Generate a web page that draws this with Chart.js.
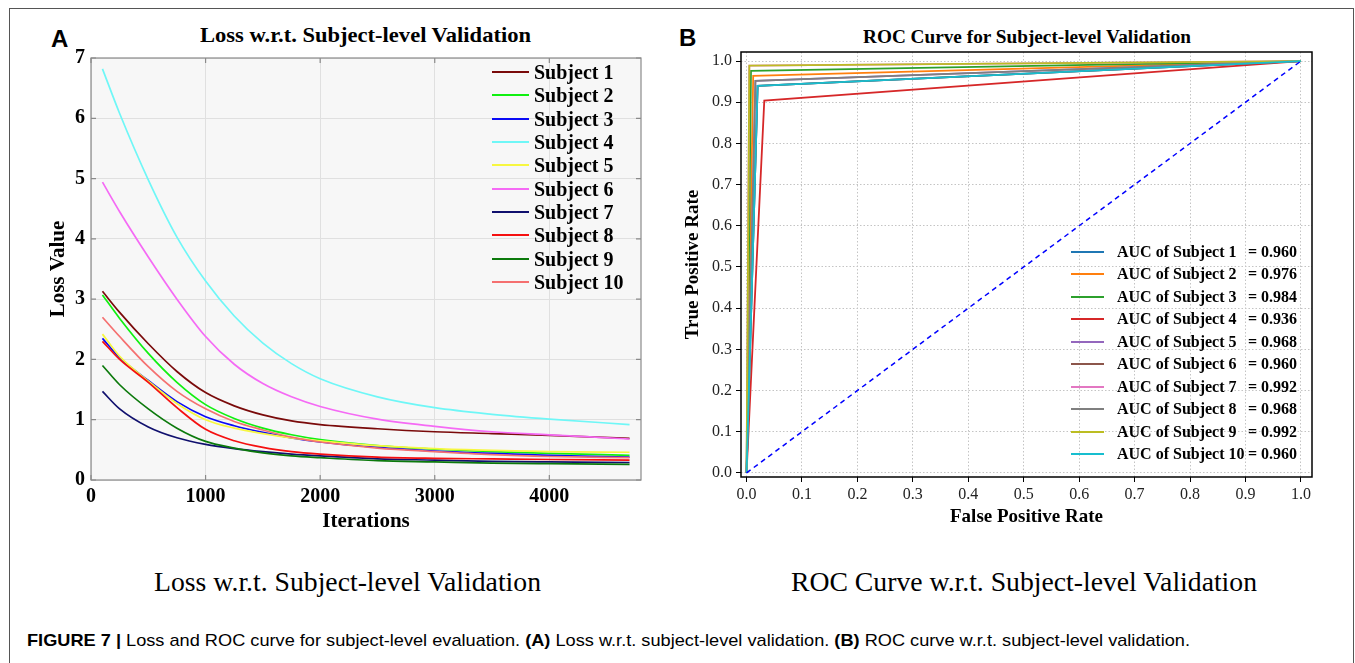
<!DOCTYPE html>
<html>
<head>
<meta charset="utf-8">
<script src="https://cdn.jsdelivr.net/npm/chart.js@4/dist/chart.umd.min.js"></script>
<style>
  body { margin: 0; width: 1355px; height: 663px; overflow: hidden; position: relative; background: #fff; font-family: 'Liberation Serif', serif; color: #000; }
  .frame { position: absolute; left: 9px; top: 8px; width: 1345px; height: 700px; border: 1.5px solid #555; box-sizing: border-box; }
  .abs { position: absolute; white-space: nowrap; line-height: 1; }
  .panel { font-family: 'Liberation Sans', sans-serif; font-weight: bold; font-size: 24px; }
  .ctitle { font-weight: bold; transform-origin: 0 50%; }
  .sub { font-size: 28px; transform-origin: 0 50%; }
  .cap { font-family: 'Liberation Sans', sans-serif; font-size: 17px; transform-origin: 0 50%; }
  canvas { position: absolute; }
  .leg { position: absolute; }
  .row { position: absolute; left: 0; white-space: nowrap; font-weight: bold; }
  .row i { position: absolute; left: 0; top: 50%; height: 2px; margin-top: -1px; }
  .row span { position: absolute; top: 50%; transform: translateY(-50%); }
</style>
</head>
<body>
<div class="frame"></div>

<div class="abs panel" style="left:51px;top:27px;">A</div>
<div class="abs panel" style="left:679px;top:26px;">B</div>

<div class="abs ctitle" id="lossTitle" style="font-size:21px;">Loss w.r.t. Subject-level Validation</div>
<div class="abs ctitle" id="rocTitle" style="font-size:18px;">ROC Curve for Subject-level Validation</div>

<canvas id="lossCanvas" width="630" height="500" style="left:20px;top:40px;"></canvas>
<canvas id="rocCanvas" width="660" height="510" style="left:680px;top:30px;"></canvas>

<div class="leg" id="lossLegend"></div>
<div class="leg" id="rocLegend"></div>

<div class="abs sub" id="lossSub">Loss w.r.t. Subject-level Validation</div>
<div class="abs sub" id="rocSub">ROC Curve w.r.t. Subject-level Validation</div>

<div class="abs cap" id="caption"><b>FIGURE 7 |</b> Loss and ROC curve for subject-level evaluation. <b>(A)</b> Loss w.r.t. subject-level validation. <b>(B)</b> ROC curve w.r.t. subject-level validation.</div>

<script>
// ---- Painel A: perda por iteração ----
const ITERATIONS = [100, 250, 500, 750, 1000, 1250, 1500, 1750, 2000, 2500, 3000, 3500, 4000, 4700];
const LOSS_S1  = [3.13, 2.78, 2.26, 1.80, 1.45, 1.23, 1.08, 0.98, 0.92, 0.85, 0.80, 0.77, 0.74, 0.69];
const LOSS_S2  = [3.07, 2.68, 2.10, 1.62, 1.25, 1.02, 0.86, 0.75, 0.67, 0.57, 0.51, 0.47, 0.44, 0.41];
const LOSS_S3  = [2.35, 2.03, 1.65, 1.30, 1.05, 0.90, 0.79, 0.70, 0.63, 0.54, 0.48, 0.44, 0.41, 0.38];
const LOSS_S4  = [6.82, 6.08, 4.98, 4.03, 3.30, 2.72, 2.27, 1.93, 1.68, 1.38, 1.20, 1.09, 1.01, 0.92];
const LOSS_S5  = [2.42, 2.05, 1.64, 1.27, 1.00, 0.86, 0.77, 0.70, 0.65, 0.57, 0.52, 0.49, 0.47, 0.46];
const LOSS_S6  = [4.94, 4.45, 3.70, 3.00, 2.38, 1.92, 1.60, 1.38, 1.22, 1.01, 0.89, 0.80, 0.75, 0.68];
const LOSS_S7  = [1.47, 1.18, 0.88, 0.70, 0.59, 0.52, 0.47, 0.43, 0.40, 0.35, 0.33, 0.31, 0.30, 0.29];
const LOSS_S8  = [2.30, 2.00, 1.62, 1.20, 0.84, 0.65, 0.54, 0.47, 0.43, 0.38, 0.36, 0.35, 0.34, 0.33];
const LOSS_S9  = [1.90, 1.58, 1.18, 0.86, 0.64, 0.53, 0.45, 0.40, 0.37, 0.32, 0.30, 0.28, 0.27, 0.26];
const LOSS_S10 = [2.70, 2.38, 1.88, 1.47, 1.18, 0.97, 0.83, 0.71, 0.63, 0.53, 0.47, 0.42, 0.39, 0.37];
const LOSS_SERIES = [LOSS_S1, LOSS_S2, LOSS_S3, LOSS_S4, LOSS_S5, LOSS_S6, LOSS_S7, LOSS_S8, LOSS_S9, LOSS_S10];
const LOSS_LABELS = ['Subject 1', 'Subject 2', 'Subject 3', 'Subject 4', 'Subject 5',
                     'Subject 6', 'Subject 7', 'Subject 8', 'Subject 9', 'Subject 10'];
const LOSS_COLORS = ['#7a0a0a', '#10f010', '#0a0af5', '#6ff7f7', '#f7f740',
                     '#f56af5', '#10106e', '#f51010', '#0c7a0c', '#f57070'];
const LOSS_X_TICKS = [0, 1000, 2000, 3000, 4000];
const LOSS_Y_TICKS = [0, 1, 2, 3, 4, 5, 6, 7];

// ---- Painel B: ROC (um ponto de operação por sujeito) ----
const ROC_LABELS = ['AUC of Subject 1', 'AUC of Subject 2', 'AUC of Subject 3', 'AUC of Subject 4', 'AUC of Subject 5',
                    'AUC of Subject 6', 'AUC of Subject 7', 'AUC of Subject 8', 'AUC of Subject 9', 'AUC of Subject 10'];
const ROC_AUC = ['0.960', '0.976', '0.984', '0.936', '0.968', '0.960', '0.992', '0.968', '0.992', '0.960'];
const ROC_FPR = [0.020, 0.012, 0.008, 0.032, 0.016, 0.020, 0.005, 0.016, 0.005, 0.020];
const ROC_TPR = [0.940, 0.964, 0.976, 0.904, 0.952, 0.940, 0.989, 0.952, 0.989, 0.940];
const ROC_COLORS = ['#1f77b4', '#ff7f0e', '#2ca02c', '#d62728', '#9467bd',
                    '#8c564b', '#e377c2', '#7f7f7f', '#bcbd22', '#17becf'];
const ROC_TICKS = [0, 0.1, 0.2, 0.3, 0.4, 0.5, 0.6, 0.7, 0.8, 0.9, 1.0];

const SERIF = 'Liberation Serif';

// moldura + fundo + ticks internos (estilo MATLAB)
const boxFrame = {
  id: 'boxFrame',
  beforeDraw(chart, args, opts) {
    if (!opts.fill) return;
    const a = chart.chartArea, ctx = chart.ctx;
    ctx.save();
    ctx.fillStyle = opts.fill;
    ctx.fillRect(a.left, a.top, a.right - a.left, a.bottom - a.top);
    ctx.restore();
  },
  afterDraw(chart, args, opts) {
    const a = chart.chartArea, ctx = chart.ctx;
    ctx.save();
    ctx.strokeStyle = opts.color || '#000';
    ctx.lineWidth = opts.width || 1;
    if (opts.innerTicks) {
      const L = opts.innerTicks;
      ctx.beginPath();
      chart.scales.x.ticks.forEach(t => {
        const px = chart.scales.x.getPixelForValue(t.value);
        ctx.moveTo(px, a.bottom); ctx.lineTo(px, a.bottom - L);
        ctx.moveTo(px, a.top); ctx.lineTo(px, a.top + L);
      });
      chart.scales.y.ticks.forEach(t => {
        const py = chart.scales.y.getPixelForValue(t.value);
        ctx.moveTo(a.left, py); ctx.lineTo(a.left + L, py);
        ctx.moveTo(a.right, py); ctx.lineTo(a.right - L, py);
      });
      ctx.stroke();
    }
    ctx.strokeRect(a.left, a.top, a.right - a.left, a.bottom - a.top);
    ctx.restore();
  }
};

function setTicks(list) {
  return axis => { axis.ticks = list.map(v => ({ value: v })); };
}

new Chart(document.getElementById('lossCanvas'), {
  type: 'line',
  data: {
    datasets: LOSS_SERIES.map((vals, i) => ({
      label: LOSS_LABELS[i],
      data: ITERATIONS.map((x, j) => ({ x: x, y: vals[j] })),
      borderColor: LOSS_COLORS[i],
      borderWidth: 1.7,
      pointRadius: 0,
      fill: false,
      cubicInterpolationMode: 'monotone',
      order: LOSS_SERIES.length - 1 - i
    }))
  },
  options: {
    responsive: false,
    animation: false,
    layout: { padding: { top: 7, right: 9, left: 0, bottom: 0 } },
    plugins: {
      legend: { display: false },
      tooltip: { enabled: false },
      boxFrame: { fill: '#f7f7f7', color: '#8a8a8a', width: 1.2, innerTicks: 5 }
    },
    scales: {
      x: {
        type: 'linear', min: 0, max: 4800,
        afterBuildTicks: setTicks(LOSS_X_TICKS),
        afterFit: s => { s.height = 60; },
        grid: { color: '#e0e0e0', drawTicks: false },
        border: { display: false },
        ticks: { color: '#000', padding: 5, maxRotation: 0, font: { family: SERIF, size: 20, weight: 'bold' },
                 callback: v => String(v) },
        title: { display: true, text: 'Iterations', color: '#000', padding: { top: 0, bottom: 6 },
                 font: { family: SERIF, size: 21, weight: 'bold' } }
      },
      y: {
        type: 'linear', min: 0, max: 7,
        afterBuildTicks: setTicks(LOSS_Y_TICKS),
        afterFit: s => { s.width = 71; },
        grid: { color: '#e0e0e0', drawTicks: false },
        border: { display: false },
        ticks: { color: '#000', padding: 6, font: { family: SERIF, size: 20, weight: 'bold' } },
        title: { display: true, text: 'Loss Value', color: '#000', padding: { top: 26, bottom: 0 },
                 font: { family: SERIF, size: 21, weight: 'bold' } }
      }
    }
  },
  plugins: [boxFrame]
});

const rocSets = ROC_LABELS.map((lab, i) => ({
  label: lab + ' = ' + ROC_AUC[i],
  data: [{ x: 0, y: 0 }, { x: ROC_FPR[i], y: ROC_TPR[i] }, { x: 1, y: 1 }],
  borderColor: ROC_COLORS[i],
  borderWidth: 1.8,
  pointRadius: 0,
  fill: false,
  tension: 0,
  order: ROC_LABELS.length - i
}));
rocSets.push({
  label: 'chance',
  data: [{ x: 0, y: 0 }, { x: 1, y: 1 }],
  borderColor: '#0000ff',
  borderWidth: 1.5,
  borderDash: [5, 4],
  pointRadius: 0,
  fill: false,
  order: 0
});

new Chart(document.getElementById('rocCanvas'), {
  type: 'line',
  data: { datasets: rocSets },
  options: {
    responsive: false,
    animation: false,
    layout: { padding: { top: 22, right: 28, left: 0, bottom: 0 } },
    plugins: {
      legend: { display: false },
      tooltip: { enabled: false },
      boxFrame: { color: '#000', width: 1.5 }
    },
    scales: {
      x: {
        type: 'linear', min: -0.01, max: 1.02,
        afterBuildTicks: setTicks(ROC_TICKS),
        afterFit: s => { s.height = 63; },
        grid: { color: '#c4c4c4', drawTicks: true, tickLength: 5, tickColor: '#000', tickBorderDash: [], tickWidth: 1 },
        border: { display: false, dash: [1.5, 2] },
        ticks: { color: '#222', padding: 3, maxRotation: 0, font: { family: SERIF, size: 16 },
                 callback: v => v.toFixed(1) },
        title: { display: true, text: 'False Positive Rate', color: '#000', padding: { top: 0, bottom: 12 },
                 font: { family: SERIF, size: 19, weight: 'bold' } }
      },
      y: {
        type: 'linear', min: -0.01, max: 1.022,
        afterBuildTicks: setTicks(ROC_TICKS),
        afterFit: s => { s.width = 61; },
        grid: { color: '#c4c4c4', drawTicks: true, tickLength: 5, tickColor: '#000', tickBorderDash: [], tickWidth: 1 },
        border: { display: false, dash: [1.5, 2] },
        ticks: { color: '#222', padding: 4, font: { family: SERIF, size: 16 },
                 callback: v => v.toFixed(1) },
        title: { display: true, text: 'True Positive Rate', color: '#000', padding: { top: 2, bottom: 0 },
                 font: { family: SERIF, size: 19, weight: 'bold' } }
      }
    }
  },
  plugins: [boxFrame]
});

// ---- legendas em HTML ----
function buildLegend(el, opts) {
  el.style.left = opts.left + 'px';
  el.style.top = opts.top + 'px';
  opts.labels.forEach((lab, i) => {
    const row = document.createElement('div');
    row.className = 'row';
    row.style.top = (i * opts.step - opts.step / 2) + 'px';
    row.style.height = opts.step + 'px';
    row.style.fontSize = opts.size + 'px';
    const ln = document.createElement('i');
    ln.style.width = opts.lineW + 'px';
    ln.style.background = opts.colors[i];
    row.appendChild(ln);
    const tx = document.createElement('span');
    tx.style.left = opts.textX + 'px';
    tx.textContent = lab;
    row.appendChild(tx);
    if (opts.values) {
      const vx = document.createElement('span');
      vx.style.left = opts.valueX + 'px';
      vx.textContent = '= ' + opts.values[i];
      row.appendChild(vx);
    }
    el.appendChild(row);
  });
}
buildLegend(document.getElementById('lossLegend'), {
  left: 492, top: 72, step: 23.33, size: 20, lineW: 37, textX: 42,
  labels: LOSS_LABELS, colors: LOSS_COLORS
});
buildLegend(document.getElementById('rocLegend'), {
  left: 1071, top: 251.7, step: 22.5, size: 16, lineW: 33, textX: 46, valueX: 177,
  labels: ROC_LABELS, colors: ROC_COLORS, values: ROC_AUC
});

// ajusta textos de figura a largura/posição da referência
function place(id, x0, x1, cy) {
  const el = document.getElementById(id);
  const w = el.getBoundingClientRect().width;
  const h = el.getBoundingClientRect().height;
  el.style.left = x0 + 'px';
  el.style.top = (cy - h / 2) + 'px';
  el.style.transform = 'scaleX(' + ((x1 - x0) / w) + ')';
}
place('lossTitle', 200, 531, 35);
place('rocTitle', 863, 1191, 36.5);
place('lossSub', 154, 541, 582);
place('rocSub', 791, 1257, 582);
place('caption', 27, 1190, 640);
</script>
</body>
</html>
